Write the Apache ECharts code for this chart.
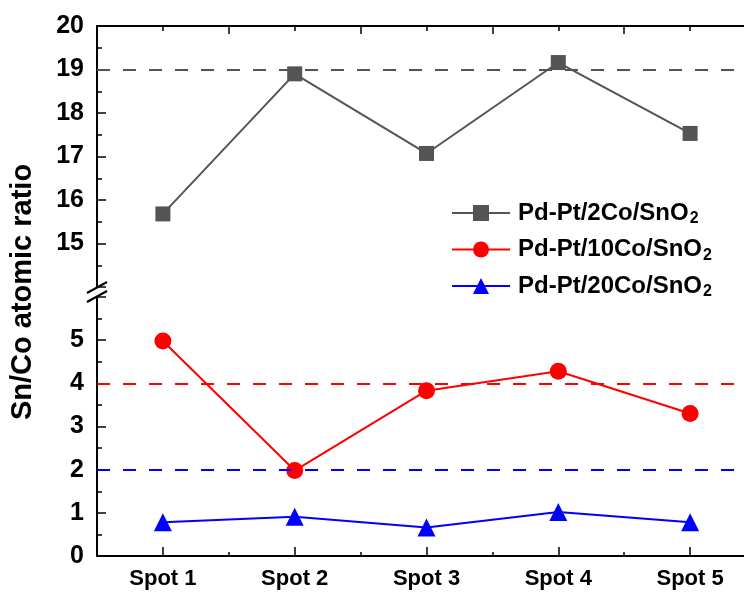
<!DOCTYPE html>
<html>
<head>
<meta charset="utf-8">
<script src="https://cdn.jsdelivr.net/npm/echarts@6/dist/echarts.min.js"></script>
<style>
  html, body { margin: 0; padding: 0; background: #fff; }
  #chart { width: 744px; height: 594px; }
</style>
</head>
<body>
<div id="chart"></div>
<script>
// Sn/Co atomic ratio measured at five spots for three catalysts
const spots = ['Spot 1', 'Spot 2', 'Spot 3', 'Spot 4', 'Spot 5'];
const co2 = [15.68, 18.9, 17.07, 19.16, 17.53];
const co10 = [4.98, 1.98, 3.83, 4.28, 3.3];
const co20 = [0.78, 0.91, 0.66, 1.02, 0.78];
// nominal ratios shown as dashed references
const nominal2 = 19;
const nominal10 = 4;
const nominal20 = 2;
// split y axis: upper and lower segments
const upperRange = [14, 20];
const lowerRange = [0, 6];

const FONT = 'Liberation Sans, Arial, sans-serif';
const GRAY = '#545454';
const RED = '#ff0000';
const BLUE = '#0000ff';

const chart = echarts.init(document.getElementById('chart'), null, { renderer: 'canvas' });

const names = ['Pd-Pt/2Co/SnO2', 'Pd-Pt/10Co/SnO2', 'Pd-Pt/20Co/SnO2'];

function dashedRef(value, color) {
  return {
    silent: true,
    symbol: 'none',
    label: { show: false },
    lineStyle: { color: color, type: [13, 13], width: 2 },
    data: [{ yAxis: value }]
  };
}

const yTickLabel = { fontFamily: FONT, fontWeight: 'bold', fontSize: 25, color: '#000', margin: 13 };
const tickStyle = { color: '#000', width: 1.5 };

// x axis for a grid: main axis (ticks at spot centres) plus a companion
// axis carrying the ticks on the boundaries between spots
function xAxes(gridIndex, position, centreLen, edgeLen, labels) {
  return [
    {
      gridIndex, type: 'category', data: spots, position,
      axisLine: { show: true, lineStyle: { color: '#000', width: 2 } },
      axisTick: { show: true, inside: true, alignWithLabel: true, length: centreLen, lineStyle: tickStyle },
      axisLabel: labels
        ? { fontFamily: FONT, fontWeight: 'bold', fontSize: 22, color: '#000', margin: 12 }
        : { show: false }
    },
    {
      gridIndex, type: 'category', data: spots, position,
      axisLine: { show: false },
      axisTick: { show: true, inside: true, alignWithLabel: false, length: edgeLen, lineStyle: tickStyle },
      axisLabel: { show: false }
    }
  ];
}

// the plot frame runs past the right edge of the canvas
const gridBase = { left: 97, width: 659, outerBoundsMode: 'none', containLabel: false };

chart.setOption({
  animation: false,
  grid: [
    Object.assign({ top: 26, height: 261 }, gridBase),
    Object.assign({ top: 297, height: 259 }, gridBase)
  ],
  xAxis: [].concat(xAxes(0, 'top', 5, 8, false), xAxes(1, 'bottom', 9, 4, true)),
  yAxis: [
    {
      gridIndex: 0, type: 'value', min: upperRange[0], max: upperRange[1], interval: 1,
      axisLine: { show: true, lineStyle: { color: '#000', width: 2 } },
      axisTick: { show: true, inside: true, length: 9, lineStyle: tickStyle },
      minorTick: { show: true, splitNumber: 2, length: 5, lineStyle: tickStyle },
      splitLine: { show: false },
      axisLabel: Object.assign({ formatter: v => (v === upperRange[0] ? '' : String(v)) }, yTickLabel)
    },
    {
      gridIndex: 1, type: 'value', min: lowerRange[0], max: lowerRange[1], interval: 1,
      axisLine: { show: true, lineStyle: { color: '#000', width: 2 } },
      axisTick: { show: true, inside: true, length: 9, lineStyle: tickStyle },
      minorTick: { show: true, splitNumber: 2, length: 5, lineStyle: tickStyle },
      splitLine: { show: false },
      axisLabel: Object.assign({ formatter: v => (v === lowerRange[1] ? '' : String(v)) }, yTickLabel)
    }
  ],
  legend: {
    orient: 'vertical',
    left: 451,
    top: 199,
    padding: 0,
    itemWidth: 58,
    itemHeight: 20,
    itemGap: 8.5,
    data: names,
    formatter: n => '{a|' + n.slice(0, -1) + '}{s|2}',
    textStyle: {
      color: '#000',
      padding: [0, 0, 0, 3],
      rich: {
        a: { fontFamily: FONT, fontWeight: 'bold', fontSize: 24, color: '#000', lineHeight: 26 },
        s: { fontFamily: FONT, fontWeight: 'bold', fontSize: 16, color: '#000', lineHeight: 26, padding: [12, 0, 0, 1] }
      }
    }
  },
  graphic: [
    {
      type: 'text',
      x: 23, y: 292, rotation: Math.PI / 2,
      style: {
        text: 'Sn/Co atomic ratio',
        font: 'bold 29px ' + FONT,
        fill: '#000',
        align: 'center',
        verticalAlign: 'middle'
      }
    },
    // axis break marks
    { type: 'line', shape: { x1: 87, y1: 293, x2: 107, y2: 282 }, style: { stroke: '#000', lineWidth: 2 } },
    { type: 'line', shape: { x1: 87, y1: 302, x2: 107, y2: 291 }, style: { stroke: '#000', lineWidth: 2 } }
  ],
  series: [
    {
      name: names[0], type: 'line', xAxisIndex: 0, yAxisIndex: 0, data: co2,
      symbol: 'rect', symbolSize: 15,
      itemStyle: { color: GRAY },
      lineStyle: { color: GRAY, width: 2 },
      markLine: dashedRef(nominal2, GRAY),
      z: 3
    },
    {
      name: names[1], type: 'line', xAxisIndex: 2, yAxisIndex: 1, data: co10,
      symbol: 'circle', symbolSize: 17,
      itemStyle: { color: RED },
      lineStyle: { color: RED, width: 2 },
      markLine: dashedRef(nominal10, RED),
      z: 3
    },
    {
      name: names[2], type: 'line', xAxisIndex: 2, yAxisIndex: 1, data: co20,
      symbol: 'triangle', symbolSize: 18,
      itemStyle: { color: BLUE },
      lineStyle: { color: BLUE, width: 2 },
      markLine: dashedRef(nominal20, BLUE),
      z: 3
    }
  ]
});
</script>
</body>
</html>
